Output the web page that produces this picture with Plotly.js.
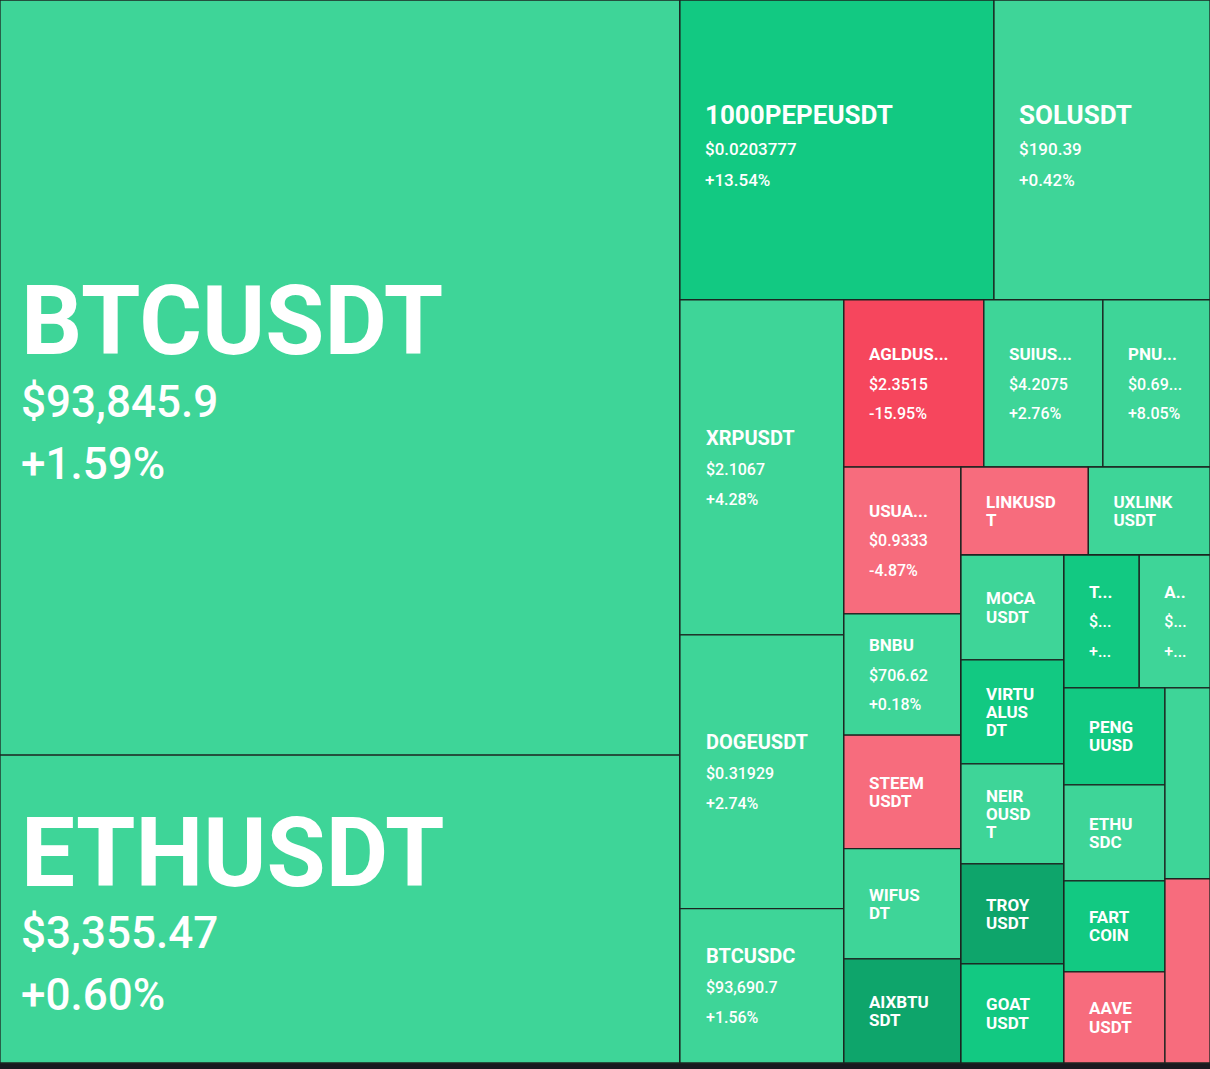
<!DOCTYPE html>
<html>
<head>
<meta charset="utf-8">
<script src="https://cdn.plot.ly/plotly-3.0.1.min.js"></script>
<style>
html,body{margin:0;padding:0;background:#181a20;overflow:hidden}
#chart{width:1210px;height:1069px}
</style>
</head>
<body>
<div id="chart"></div>
<script>
// ---- data ----
const symbols = ['BTCUSDT','ETHUSDT','1000PEPEUSDT','SOLUSDT','XRPUSDT','DOGEUSDT','BTCUSDC',
  'AGLDUSDT','SUIUSDT','PNUTUSDT','USUALUSDT','BNBUSDT','STEEMUSDT','WIFUSDT','AIXBTUSDT',
  'LINKUSDT','UXLINKUSDT','MOCAUSDT','VIRTUALUSDT','NEIROUSDT','TROYUSDT','GOATUSDT',
  'T…','A…','PENGUUSDT','ETHUSDC','FARTCOINUSDT','AAVEUSDT','hidden-1','hidden-2'];
const labelShown = ['BTCUSDT','ETHUSDT','1000PEPEUSDT','SOLUSDT','XRPUSDT','DOGEUSDT','BTCUSDC',
  'AGLDUS...','SUIUS...','PNU...','USUA...','BNBU','STEEM\nUSDT','WIFUS\nDT','AIXBTU\nSDT',
  'LINKUSD\nT','UXLINK\nUSDT','MOCA\nUSDT','VIRTU\nALUS\nDT','NEIR\nOUSD\nT','TROY\nUSDT','GOAT\nUSDT',
  'T...','A..','PENG\nUUSD','ETHU\nSDC','FART\nCOIN','AAVE\nUSDT','',''];
const priceShown = ['$93,845.9','$3,355.47','$0.0203777','$190.39','$2.1067','$0.31929','$93,690.7',
  '$2.3515','$4.2075','$0.69...','$0.9333','$706.62','','','',
  '','','','','','','',
  '$...','$...','','','','','',''];
const changeShown = ['+1.59%','+0.60%','+13.54%','+0.42%','+4.28%','+2.74%','+1.56%',
  '-15.95%','+2.76%','+8.05%','-4.87%','+0.18%','','','',
  '','','','','','','',
  '+...','+...','','','','','',''];
// 24h change in % (hidden ones estimated from the tile colour)
const changePct = [1.59,0.60,13.54,0.42,4.28,2.74,1.56,
  -15.95,2.76,8.05,-4.87,0.18,-3.2,4.0,22.0,
  -2.1,6.0,3.0,12.0,5.0,24.0,11.0,
  13.0,5.0,15.0,0.6,14.0,-2.8,2.0,-3.5];
// relative trading volume (tile size)
const volume = [5134,2094,942,648,549,449,253,
  234,199,179,172,142,133,129,122,
  112,107,108,107,103,103,102,
  100,94,98,97,92,92,86,83];
// number of tiles in each successive strip of the layout
const strips = [2,2,3,3,5,2,5,2,4,2];

// ---- styling helpers ----
const COLORS = {dark:'#0ea56b', mid:'#12c982', light:'#3ed598', lred:'#f76c7d', red:'#f6465d'};
function tileColor(p){
  if(p>=20) return COLORS.dark;
  if(p>=10) return COLORS.mid;
  if(p>=0) return COLORS.light;
  if(p>-10) return COLORS.lred;
  return COLORS.red;
}
const tiers = {
  xl:{base:48, label:96, sub:44, off:18, lift:0},
  l:{base:23.5, label:26, sub:17, off:22, lift:5},
  m:{base:23, label:20, sub:16, off:23, lift:0},
  s:{base:23, label:17, sub:16, off:22, lift:0},
  wrap:{base:14, label:17, sub:17, off:22, lift:0}
};
function tierOf(i){
  if(volume[i]>=2000) return tiers.xl;
  if(volume[i]>=600) return tiers.l;
  if(volume[i]>=240) return tiers.m;
  if(labelShown[i].indexOf('\n')>=0) return tiers.wrap;
  return tiers.s;
}
function padSpan(offset,size){
  const n = Math.ceil(offset/(0.2476*size));
  const s = offset/(0.2476*n);
  return '<span style="font-size:'+s.toFixed(2)+'px">'+'\u00a0'.repeat(n)+'</span>';
}
function lineHtml(txt,size,weight,offset){
  return padSpan(offset,size)+'<span style="font-size:'+size+'px;font-weight:'+weight+'">'+txt+'</span>';
}
function tileText(i){
  if(!labelShown[i]) return '';
  const t = tierOf(i);
  const lines = labelShown[i].split('\n').map(s=>lineHtml(s,t.label,700,t.off));
  let lastSize = t.label;
  if(priceShown[i]){ lines.push(lineHtml(priceShown[i],t.sub,500,t.off)); lastSize = t.sub; }
  if(changeShown[i]){ lines.push(lineHtml(changeShown[i],t.sub,500,t.off)); lastSize = t.sub; }
  if(t.lift){
    // enlarge the bottom of the text box so the centred block sits a little higher
    const s = lastSize + 2*t.lift/0.244;
    lines[lines.length-1] += '<span style="font-size:'+s.toFixed(1)+'px">\u00a0</span>';
  }
  return lines.join('<br>');
}

// ---- build hierarchy: strips alternate column / row (slice-dice) ----
const ids=[], parents=[], labels=[], values=[], texts=[], colors=[], sizes=[];
function addNode(id,parent,label,value,text,color,size){
  ids.push(id); parents.push(parent); labels.push(label); values.push(value);
  texts.push(text); colors.push(color); sizes.push(size);
}
addNode('root','','',0,'','#1e2329',12);
let parent='root', idx=0;
for(let k=0;k<strips.length;k++){
  const g='strip'+k;
  addNode(g,parent,'',0,'','#1e2329',12);
  for(let j=0;j<strips[k];j++,idx++){
    addNode(symbols[idx],g,symbols[idx],volume[idx],tileText(idx),tileColor(changePct[idx]),tierOf(idx).base);
  }
  if(k<strips.length-2){
    const r='rest'+k;
    addNode(r,parent,'',0,'','#1e2329',12);
    parent=r;
  }
}

const trace = {
  type:'treemap',
  ids:ids, parents:parents, labels:labels, values:values,
  branchvalues:'remainder',
  sort:false,
  text:texts,
  textinfo:'text',
  textposition:'middle left',
  textfont:{family:'Roboto, "Noto Sans", sans-serif', color:'#ffffff', size:sizes, weight:500},
  insidetextfont:{family:'Roboto, "Noto Sans", sans-serif', color:'#ffffff', size:sizes, weight:500},
  marker:{colors:colors, line:{color:'#1c2420', width:1.3}, pad:{t:0,l:0,r:0,b:0}, depthfade:false},
  leaf:{opacity:1},
  tiling:{packing:'slice-dice', pad:0},
  pathbar:{visible:false},
  hoverinfo:'label'
};
const layout = {
  width:1210, height:1069,
  margin:{t:0,l:0,r:0,b:6},
  paper_bgcolor:'#181a20',
  plot_bgcolor:'#181a20',
  showlegend:false
};
Plotly.newPlot('chart',[trace],layout,{displayModeBar:false,staticPlot:true});
</script>
</body>
</html>
